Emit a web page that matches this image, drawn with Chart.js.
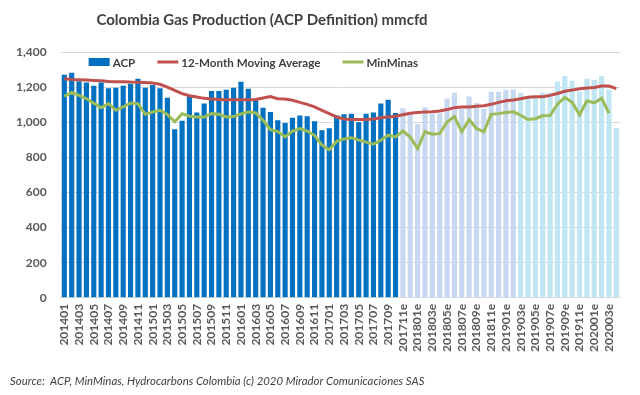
<!DOCTYPE html>
<html>
<head>
<meta charset="utf-8">
<script src="https://cdn.jsdelivr.net/npm/chart.js@4"></script>
<style>
  html, body { margin: 0; padding: 0; background: #ffffff; }
  #wrap { width: 640px; height: 395px; position: relative; }
</style>
</head>
<body>
<div id="wrap"><canvas id="c" width="640" height="395"></canvas></div>
<script>
const chartTitle = 'Colombia Gas Production (ACP Definition) mmcfd';
const sourceText = 'Source:  ACP, MinMinas, Hydrocarbons Colombia (c) 2020 Mirador Comunicaciones SAS';

const periods = [
  '201401','201402','201403','201404','201405','201406','201407','201408','201409','201410','201411','201412',
  '201501','201502','201503','201504','201505','201506','201507','201508','201509','201510','201511','201512',
  '201601','201602','201603','201604','201605','201606','201607','201608','201609','201610','201611','201612',
  '201701','201702','201703','201704','201705','201706','201707','201708','201709','201710','201711e','201712e',
  '201801e','201802e','201803e','201804e','201805e','201806e','201807e','201808e','201809e','201810e','201811e','201812e',
  '201901e','201902e','201903e','201904e','201905e','201906e','201907e','201908e','201909e','201910e','201911e','201912e',
  '202001e','202002e','202003e','202004e'
];

const acp = [
  1271,1282,1234,1227,1208,1227,1193,1197,1208,1219,1248,1197,
  1212,1193,1140,960,1009,1147,1055,1106,1178,1178,1185,1197,
  1231,1191,1125,1083,1058,1011,996,1026,1039,1034,1005,954,
  966,1039,1045,1049,1000,1049,1056,1106,1128,1053,1079,1055,
  990,1085,1049,1051,1135,1168,1075,1147,1110,1077,1174,1174,
  1185,1186,1168,1138,1138,1168,1168,1232,1264,1236,1175,1247,
  1240,1264,1186,967
];

const ma12 = [
  1248,1244,1242,1240,1238,1236,1232,1231,1231,1229,1228,1226,
  1223,1216,1200,1181,1163,1151,1144,1136,1132,1130,1128,1128,
  1128,1128,1130,1138,1146,1134,1132,1125,1113,1102,1087,1068,
  1049,1030,1019,1015,1015,1015,1019,1026,1030,1034,1043,1051,
  1056,1059,1060,1064,1072,1083,1087,1087,1091,1094,1102,1113,
  1122,1127,1134,1142,1145,1145,1153,1164,1176,1183,1191,1195,
  1198,1206,1206,1191
];

const minminas = [
  1147,1170,1153,1134,1109,1083,1106,1068,1087,1109,1106,1045,
  1058,1068,1045,1002,1049,1034,1030,1030,1049,1045,1030,1032,
  1047,1058,1053,1011,958,947,916,949,964,950,925,870,
  843,892,905,912,899,887,875,897,926,916,950,916,
  850,946,932,935,1001,1032,946,1015,964,946,1045,1049,
  1055,1059,1040,1016,1020,1037,1038,1103,1141,1114,1042,1122,
  1110,1137,1052,null
];

const yTickValues = [0,200,400,600,800,1000,1200,1400];

const COL_ACTUAL = '#0070C0';
const COL_EST1 = '#C6D9F1';
const COL_EST2 = '#BFE6F2';
const secondEstimateStart = '201903e';
const COL_MA = '#C0504D';
const COL_MIN = '#9BBB59';

const est2Index = periods.indexOf(secondEstimateStart);
const barColors = periods.map((p, i) => !p.endsWith('e') ? COL_ACTUAL : (i >= est2Index ? COL_EST2 : COL_EST1));

const FONT = 'Lato, "Open Sans", "Liberation Sans", sans-serif';
const TEXT = '#595959';

const overlay = {
  id: 'overlay',
  afterDraw(chart) {
    const ctx = chart.ctx;
    const ca = chart.chartArea;
    ctx.save();
    // title
    ctx.fillStyle = '#404040';
    ctx.font = 'bold 15px ' + FONT;
    ctx.textAlign = 'center';
    ctx.textBaseline = 'middle';
    ctx.fillText(chartTitle, 262, 20);
    // legend
    ctx.font = 'bold 11.6px ' + FONT;
    ctx.textAlign = 'left';
    let x = ca.left + 28;
    const y = ca.top + 10;
    chart.data.datasets.forEach(ds => {
      if (ds.type === 'bar') {
        ctx.fillStyle = COL_ACTUAL;
        ctx.fillRect(x, y - 4, 21, 8);
      } else {
        ctx.strokeStyle = ds.borderColor;
        ctx.lineWidth = 3;
        ctx.beginPath();
        ctx.moveTo(x, y);
        ctx.lineTo(x + 21, y);
        ctx.stroke();
      }
      x += 24;
      ctx.fillStyle = '#404040';
      ctx.fillText(ds.label, x, y + 1);
      x += ctx.measureText(ds.label).width + 22;
    });
    // source
    ctx.font = 'italic 11.4px ' + FONT;
    ctx.fillStyle = '#404040';
    ctx.textBaseline = 'middle';
    ctx.fillText(sourceText, 10, 381);
    ctx.restore();
  }
};

new Chart(document.getElementById('c'), {
  type: 'bar',
  data: {
    labels: periods,
    datasets: [
      { type: 'bar', label: 'ACP', data: acp, backgroundColor: barColors, borderWidth: 0,
        barPercentage: 0.7, categoryPercentage: 1.0, order: 2 },
      { type: 'line', label: '12-Month Moving Average', data: ma12, borderColor: COL_MA, backgroundColor: COL_MA,
        borderWidth: 3, pointRadius: 0, tension: 0, order: 1 },
      { type: 'line', label: 'MinMinas', data: minminas, borderColor: COL_MIN, backgroundColor: COL_MIN,
        borderWidth: 3, pointRadius: 0, tension: 0, order: 0 }
    ]
  },
  options: {
    responsive: false,
    animation: false,
    layout: { padding: { top: 52, left: 2, right: 20, bottom: 37 } },
    plugins: { legend: { display: false }, tooltip: { enabled: false }, title: { display: false } },
    scales: {
      x: {
        grid: { display: false, drawTicks: false },
        border: { display: true, color: '#D9D9D9' },
        ticks: {
          autoSkip: false, maxRotation: 90, minRotation: 90, padding: 6,
          color: TEXT, font: { family: FONT, size: 12, weight: 'bold' },
          callback: function(v, i) { return i % 2 === 0 ? this.getLabelForValue(v) : ''; }
        }
      },
      y: {
        min: 0, max: 1400,
        afterBuildTicks: (axis) => { axis.ticks = yTickValues.map(v => ({ value: v })); },
        grid: { color: '#D9D9D9', drawTicks: false },
        border: { display: false },
        ticks: {
          padding: 14, color: TEXT, font: { family: FONT, size: 12, weight: 'bold' },
          callback: (v) => v.toLocaleString('en-US')
        }
      }
    }
  },
  plugins: [overlay]
});
</script>
</body>
</html>
